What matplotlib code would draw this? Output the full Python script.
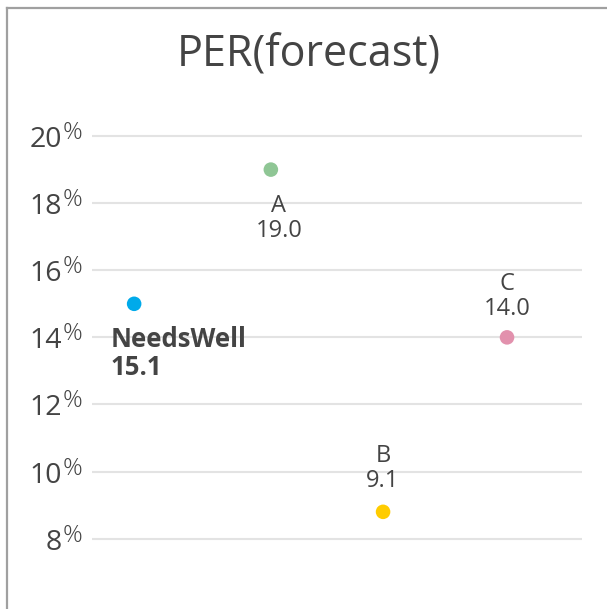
import matplotlib
matplotlib.use("Agg")
import matplotlib.pyplot as plt
from matplotlib.lines import Line2D
from matplotlib.transforms import offset_copy

plt.rcParams['font.family'] = ['Open Sans', 'DejaVu Sans']

# ---- data ----
names = ["NeedsWell", "A", "B", "C"]
x_pos = [0.86, 3.65, 5.94, 8.47]
values = [15.0, 19.0, 8.8, 14.0]
value_labels = ["15.1", "19.0", "9.1", "14.0"]
colors = ["#00aaea", "#8fc695", "#ffcc00", "#e291ad"]
y_ticks = [8, 10, 12, 14, 16, 18, 20]
title = "PER(forecast)"

TXT = "#444444"
W, H = 607, 609
fig = plt.figure(figsize=(W / 100, H / 100), dpi=100)

# frame (top and left only visible)
fig.add_artist(Line2D([7 / W, 1.0], [1 - 8 / H, 1 - 8 / H], color="#a0a0a0", lw=1.6))
fig.add_artist(Line2D([7 / W, 7 / W], [0.0, 1 - 8 / H], color="#a0a0a0", lw=1.6))

ax = fig.add_axes([92 / W, 1 - 589 / H, 490 / W, (589 - 102.5) / H])
ax.set_xlim(0, 10)
ax.set_ylim(6.5, 21)
for s in ax.spines.values():
    s.set_visible(False)
ax.set_xticks([])
ax.set_yticks([])

tr = ax.get_yaxis_transform()
for t in y_ticks:
    ax.axhline(t, color="#e3e3e3", lw=1.5, zorder=0)
    ax.text(-30 / 490, t, str(t), transform=offset_copy(tr, fig=fig, x=0, y=-11, units="dots"),
            ha="right", va="baseline", fontsize=20.5, color=TXT)
    ax.text(-30 / 490, t, "%", transform=offset_copy(tr, fig=fig, x=1, y=-3, units="dots"),
            ha="left", va="baseline", fontsize=17.5, color=TXT, fontweight="light")

ax.scatter(x_pos, values, s=110, c=colors, zorder=3, linewidths=0)

# labels
ax.annotate(names[0] + "\n" + value_labels[0], (x_pos[0], values[0]),
            xytext=(-24, -22), textcoords="offset pixels", ha="left", va="top",
            fontsize=18.5, fontweight="bold", color=TXT, linespacing=1.05)
ax.annotate(names[1] + "\n" + value_labels[1], (x_pos[1], values[1]),
            xytext=(8, -24), textcoords="offset pixels", ha="center", va="top",
            fontsize=17, color=TXT, linespacing=1.05)
ax.annotate(names[2] + "\n" + value_labels[2], (x_pos[2], values[2]),
            xytext=(0, 19), textcoords="offset pixels", ha="center", va="bottom",
            fontsize=17, color=TXT, linespacing=1.05)
ax.annotate(names[3] + "\n" + value_labels[3], (x_pos[3], values[3]),
            xytext=(0, 16), textcoords="offset pixels", ha="center", va="bottom",
            fontsize=17, color=TXT, linespacing=1.05)

fig.text(309 / W, 1 - 67 / H, title, ha="center", va="baseline", fontsize=31, color=TXT)

fig.savefig("out.png", dpi=100)
